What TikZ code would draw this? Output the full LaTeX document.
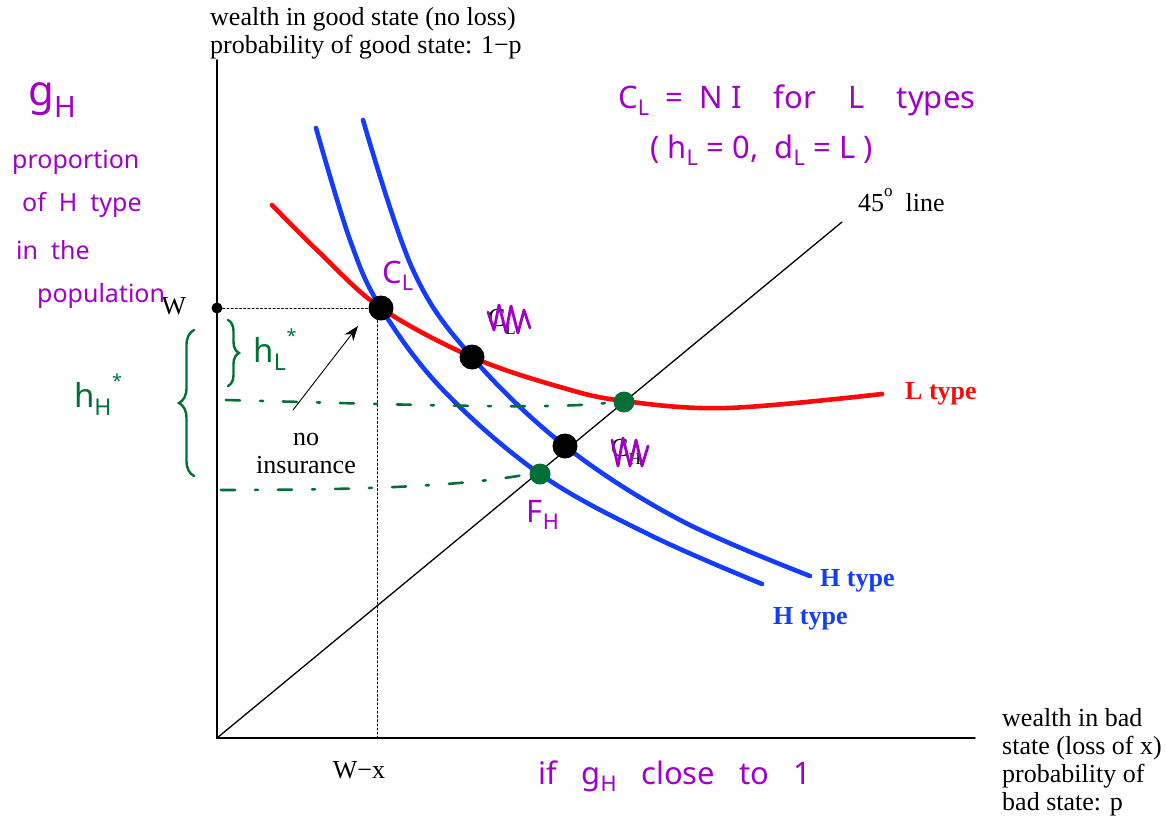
\documentclass[tikz,border=0pt]{standalone}
\usepackage{fontspec}
\setmainfont{Liberation Serif}
\newfontfamily\handfont{Noto Sans}
\usetikzlibrary{positioning,arrows.meta,decorations.pathreplacing}
\definecolor{lred}{RGB}{250,10,10}
\definecolor{hblue}{RGB}{20,60,250}
\definecolor{inkpurple}{RGB}{160,0,200}
\definecolor{inkgreen}{RGB}{0,112,55}
\tikzset{
  axis/.style={line width=1.8pt},
  diag/.style={line width=1.3pt},
  guide/.style={dash pattern=on 2pt off 2.2pt, line width=0.9pt},
  lcurve/.style={line width=4.6pt, lred},
  hcurve/.style={line width=4.6pt, hblue},
  cdot/.style={circle, fill=black, inner sep=0pt, minimum size=25pt},
  wdot/.style={circle, fill=black, inner sep=0pt, minimum size=11pt},
  gdot/.style={circle, fill=inkgreen, inner sep=0pt, minimum size=21pt},
  gdash/.style={inkgreen, line width=2.6pt, dash pattern=on 14pt off 20pt on 3pt off 20pt},
  gbrace/.style={inkgreen, line width=2.4pt, decorate},
  plain/.style={font=\fontsize{26}{28}\selectfont, inner sep=0pt},
  tlabel/.style={font=\bfseries\fontsize{26}{28}\selectfont, inner sep=0pt},
  hand/.style={inkpurple, font=\handfont\fontsize{25}{30}\selectfont, inner sep=0pt},
  bighand/.style={inkpurple, font=\handfont\fontsize{31}{36}\selectfont, inner sep=0pt},
  handg/.style={inkgreen, font=\handfont\fontsize{33}{36}\selectfont, inner sep=0pt},
  scrib/.style={inkpurple, line width=2.8pt, line join=round},
}
\begin{document}
\begin{tikzpicture}[x=1pt,y=-1pt,line cap=round]
  \useasboundingbox (0,0) rectangle (1166,815);
  % ====== eksenler ======
  \coordinate (O) at (217,738);
  \coordinate (ytop) at (217,60);
  \coordinate (xend) at (975,738);
  \coordinate (dtop) at (842,222);
  \draw[axis] (ytop) -- (O) -- (xend);
  \draw[diag] (O) -- (dtop);
  % ====== W ve sigortasiz nokta ======
  \node[wdot] (W) at (217,308) {};
  \coordinate (cLc) at (379,308);
  \coordinate (wx) at (377,738);
  \draw[guide] (W) -- (cLc);
  \draw[guide] (377,308) -- (wx);
  % ====== egriler ======
  \draw[lcurve] plot[smooth,tension=0.6] coordinates {(272,205) (320,253) (381,308)
    (472,357) (560,387) (624,401) (727,408) (882,394)};
  \draw[hcurve] plot[smooth,tension=0.6] coordinates {(316,128) (350,240) (381,308)
    (443,390) (540,474) (650,535) (762,584)};
  \draw[hcurve] plot[smooth,tension=0.6] coordinates {(363,120) (413,270)
    (472,357) (565,446) (680,520) (810,576)};
  \node[cdot] (cL) at (381,308) {};
  \node[cdot] (cLp) at (472,357) {};
  \node[cdot] (cH) at (565,446) {};
  \node[gdot] (gL) at (624,402) {};
  \node[gdot] (fH) at (540,474) {};
  % ====== yazilar ======
  \node[plain,anchor=base west] (yl1) at (210,25) {wealth in good state (no loss)};
  \node[plain,anchor=base west] (yl2) at (210,53) {probability of good state: 1−p};
  \node[plain,anchor=north west,align=left] (xl) at (1002,708)
    {wealth in bad\\state (loss of x)\\probability of\\bad state: p};
  \node[plain] (Wl) at (174,306) {W};
  \node[plain] (wxl) at (359,770) {W−x};
  \node[plain,anchor=west] (dl) at (858,200) {45\raisebox{0.55em}{\fontsize{17}{17}\selectfont o}\ \ line};
  \node[tlabel,lred,anchor=west] (Ll) at (905,394) {L type};
  \node[tlabel,hblue,anchor=west] (H1) at (820,581) {H type};
  \node[tlabel,hblue,anchor=west] (H2) at (773,619) {H type};
  \node[plain,align=center] (ni) at (306,453) {no\\insurance};
  \draw[-{Stealth[length=15pt,width=11pt]}, line width=0.9pt] (293,410) -- (358,326);
  \node[plain] (cLt) at (502,322) {C\raisebox{-0.3em}{\fontsize{17}{17}\selectfont L}};
  \node[plain] (cHt) at (626,452) {C\raisebox{-0.3em}{\fontsize{17}{17}\selectfont H}};
  % ====== yesil isaretler ======
  \draw[gdash] (226,400) .. controls (420,405) and (560,410) .. (gL.west);
  \draw[gdash] (221,490) .. controls (380,490) and (470,485) .. (fH.west);
  \draw[gbrace,decoration={brace,amplitude=15pt}] (194,476) -- (194,330);
  \draw[gbrace,decoration={brace,amplitude=11pt}] (228,320) -- (228,386);
  \node[handg] (hH) at (98,395) {h\textsubscript{H}\raisebox{0.6em}{\fontsize{18}{18}\selectfont *}};
  \node[handg] (hL) at (275,350) {h\textsubscript{L}\raisebox{0.6em}{\fontsize{18}{18}\selectfont *}};
  % ====== mor notlar ======
  \node[hand,anchor=west,font=\handfont\fontsize{42}{44}\selectfont] (gH) at (28,100) {g\textsubscript{H}};
  \node[hand,anchor=west] (n1) at (12,162) {proportion};
  \node[hand,anchor=west] (n2) at (22,205) {of \ H \ type};
  \node[hand,anchor=west] (n3) at (16,250) {in \ the};
  \node[hand,anchor=west] (n4) at (37,296) {population};
  \node[bighand,anchor=west] (t1) at (618,100) {C\textsubscript{L} \ = \ N I \ \ \ for \ \ \ L \ \ \ types};
  \node[bighand,anchor=west] (t2) at (650,150) {( h\textsubscript{L} = 0, \ d\textsubscript{L} = L )};
  \node[bighand] (pcL) at (398,276) {C\textsubscript{L}};
  \node[bighand] (pfH) at (543,515) {F\textsubscript{H}};
  \node[bighand] (bot) at (675,776) {if \ \ g\textsubscript{H} \ \ close \ \ to \ \ 1};
  \draw[scrib] (488,312) -- (494,330) -- (499,305) -- (506,332) -- (511,306) -- (518,333) -- (524,310) -- (530,328);
  \draw[scrib] (612,440) -- (618,466) -- (623,438) -- (630,466) -- (636,440) -- (642,466) -- (648,446);
\end{tikzpicture}
\end{document}
